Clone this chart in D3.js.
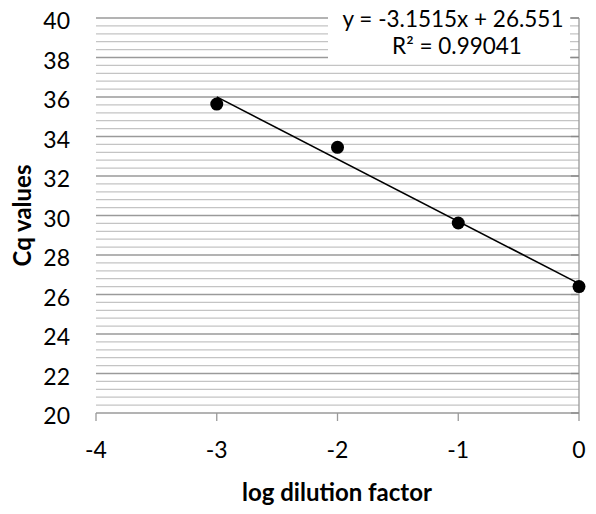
<!DOCTYPE html>
<html>
<head>
<meta charset="utf-8">
<script src="https://cdn.jsdelivr.net/npm/d3@7"></script>
<style>
	html, body { margin: 0; padding: 0; background: #fff; }
	.c-svg { width: 596px; height: 514px; }
	text { font-family: Lato, "Open Sans", sans-serif; fill: #000; }
</style>
</head>
<body>
<div class="c-svg"></div>
<script>
//DATA
//-------------------------------------------------------------------------

const logDilution = [-3, -2, -1, 0];
const cqValues = [35.64, 33.45, 29.62, 26.40];

const xTicks = [-4, -3, -2, -1, 0];
const yTicks = [20, 22, 24, 26, 28, 30, 32, 34, 36, 38, 40];

//trendline from the chart label
const slope = -3.1515;
const intercept = 26.551;
const rSquared = 0.99041;
const eqLabel = "y = -3.1515x + 26.551";
const r2Label = "R² = 0.99041";

const xTitle = "log dilution factor";
const yTitle = "Cq values";


//INITIALISATION
//-------------------------------------------------------------------------

const opts = {
	container: ".c-svg",
	width: 596,
	height: 514,
	margin: { top: 18, right: 17, bottom: 101, left: 96 }
};

const innerChart = {
	width: opts.width - opts.margin.left - opts.margin.right,
	height: opts.height - opts.margin.top - opts.margin.bottom
};

const svg = d3.select(opts.container)
	.append("svg")
	.attr("width", opts.width)
	.attr("height", opts.height);

const g = svg.append("g")
	.attr("transform", `translate(${opts.margin.left} ${opts.margin.top})`);

const x = d3.scaleLinear()
	.domain([-4, 0])
	.range([0, innerChart.width]);

const y = d3.scaleLinear()
	.domain([20, 40])
	.range([innerChart.height, 0]);


//GRIDLINES
//-------------------------------------------------------------------------

//minor lines every 0.4
const minorTicks = d3.range(0, 51).map((i)=>{ return 20 + i * 0.4; })
	.filter((v)=>{ return Math.abs((v - 20) / 2 - Math.round((v - 20) / 2)) > 0.01; });

g.append("g")
	.selectAll("line")
	.data(minorTicks)
	.join("line")
	.attr("x1", 0)
	.attr("x2", innerChart.width)
	.attr("y1", (d)=>{ return y(d); })
	.attr("y2", (d)=>{ return y(d); })
	.attr("stroke", "#c4c4c4")
	.attr("stroke-width", 1.3);

g.append("g")
	.selectAll("line")
	.data(yTicks.slice(1))
	.join("line")
	.attr("x1", 0)
	.attr("x2", innerChart.width)
	.attr("y1", (d)=>{ return y(d); })
	.attr("y2", (d)=>{ return y(d); })
	.attr("stroke", "#9a9a9a")
	.attr("stroke-width", 1.3);


//AXIS
//-------------------------------------------------------------------------

//x axis at the bottom
const xAxis = g.append("g")
	.attr("transform", `translate(0 ${innerChart.height})`);

xAxis.append("line")
	.attr("x1", 0)
	.attr("x2", innerChart.width)
	.attr("stroke", "#9a9a9a")
	.attr("stroke-width", 1.3);

xAxis.selectAll(".tick")
	.data(xTicks)
	.join("line")
	.attr("x1", (d)=>{ return x(d); })
	.attr("x2", (d)=>{ return x(d); })
	.attr("y1", 0)
	.attr("y2", 8)
	.attr("stroke", "#9a9a9a")
	.attr("stroke-width", 1.3);

xAxis.selectAll("text")
	.data(xTicks)
	.join("text")
	.attr("x", (d)=>{ return x(d); })
	.attr("y", 45)
	.attr("text-anchor", "middle")
	.style("font-size", "23px")
	.text((d)=>{ return d; });

//y axis crosses at x = 0
g.append("line")
	.attr("x1", x(0))
	.attr("x2", x(0))
	.attr("y1", 0)
	.attr("y2", innerChart.height)
	.attr("stroke", "#9a9a9a")
	.attr("stroke-width", 1.3);

g.append("g")
	.selectAll("line")
	.data(yTicks)
	.join("line")
	.attr("x1", x(0) - 8)
	.attr("x2", x(0))
	.attr("y1", (d)=>{ return y(d); })
	.attr("y2", (d)=>{ return y(d); })
	.attr("stroke", "#8a8a8a")
	.attr("stroke-width", 1.3);

//labels stay on the low side
g.append("g")
	.selectAll("text")
	.data(yTicks)
	.join("text")
	.attr("x", -26)
	.attr("y", (d)=>{ return y(d) + 11; })
	.attr("text-anchor", "end")
	.style("font-size", "23px")
	.text((d)=>{ return d; });


//TRENDLINE + POINTS
//-------------------------------------------------------------------------

const trendX = [d3.min(logDilution), d3.max(logDilution)];

g.append("line")
	.attr("x1", x(trendX[0]))
	.attr("y1", y(slope * trendX[0] + intercept))
	.attr("x2", x(trendX[1]))
	.attr("y2", y(slope * trendX[1] + intercept))
	.attr("stroke", "#000")
	.attr("stroke-width", 1.6);

g.append("g")
	.selectAll("circle")
	.data(logDilution)
	.join("circle")
	.attr("cx", (d)=>{ return x(d); })
	.attr("cy", (d, i)=>{ return y(cqValues[i]); })
	.attr("r", 6.5)
	.attr("fill", "#000");


//EQUATION LABEL
//-------------------------------------------------------------------------

svg.append("rect")
	.attr("x", 328)
	.attr("y", 0)
	.attr("width", 242)
	.attr("height", 62)
	.attr("fill", "#fff");

svg.append("text")
	.attr("x", 453)
	.attr("y", 27)
	.attr("text-anchor", "middle")
	.style("font-size", "22.5px")
	.text(eqLabel);

svg.append("text")
	.attr("x", 457)
	.attr("y", 54)
	.attr("text-anchor", "middle")
	.style("font-size", "22.5px")
	.text(r2Label);


//AXIS TITLES
//-------------------------------------------------------------------------

svg.append("text")
	.attr("x", opts.margin.left + x(-2) - 0.5)
	.attr("y", 501)
	.attr("text-anchor", "middle")
	.style("font-size", "24px")
	.style("font-weight", "bold")
	.text(xTitle);

svg.append("text")
	.attr("transform", `translate(31 ${opts.margin.top + innerChart.height / 2}) rotate(-90)`)
	.attr("text-anchor", "middle")
	.style("font-size", "24px")
	.style("font-weight", "bold")
	.text(yTitle);
</script>
</body>
</html>
